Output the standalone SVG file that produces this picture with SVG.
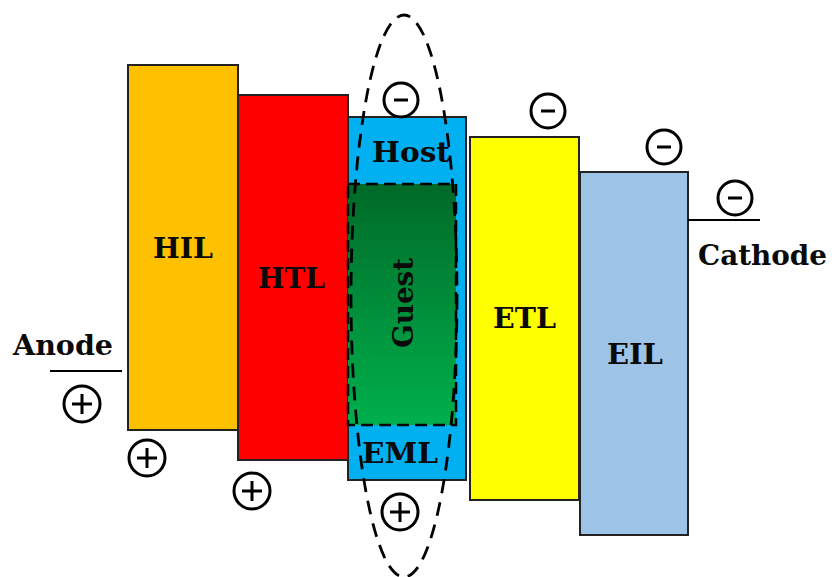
<svg xmlns="http://www.w3.org/2000/svg" width="832" height="577" viewBox="0 0 832 577">
<style>
.layer{stroke:#222;stroke-width:2}
.lbl{font-family:"DejaVu Serif","Liberation Serif",serif;font-weight:bold;fill:#0a0a0a;font-size:28px}
.chg{fill:none;stroke:#000;stroke-width:3}
.sign{stroke:#000;stroke-width:3;fill:none}
.dash{fill:none;stroke:#000;stroke-width:2.8;stroke-dasharray:14 9}
.dash2{fill:none;stroke:#000;stroke-width:2.5;stroke-dasharray:12 6}
</style>
<defs>
<linearGradient id="g" x1="0" y1="0" x2="0" y2="1">
<stop offset="0" stop-color="#006A28"/>
<stop offset="1" stop-color="#00B04C"/>
</linearGradient>
<g id="minus"><circle r="17" class="chg"/><line x1="-7" y1="0" x2="7" y2="0" class="sign" stroke-width="4.5"/></g>
<g id="plus"><circle r="18" class="chg"/><line x1="-10" y1="0" x2="10" y2="0" class="sign"/><line x1="0" y1="-10" x2="0" y2="10" class="sign"/></g>
</defs>
<rect width="832" height="577" fill="#fff"/>
<g id="HIL"><rect x="128" y="65" width="110" height="365" fill="#FFC000" class="layer"/><text x="153" y="258" class="lbl" textLength="60" lengthAdjust="spacingAndGlyphs">HIL</text></g>
<g id="HTL"><rect x="238" y="95" width="110" height="365" fill="#FF0000" class="layer"/><text x="258" y="288" class="lbl" textLength="67" lengthAdjust="spacingAndGlyphs">HTL</text></g>
<g id="EML"><rect x="348" y="117" width="118" height="363" fill="#00B0F0" class="layer"/><text x="372" y="162" class="lbl" textLength="78" lengthAdjust="spacingAndGlyphs">Host</text><text x="362" y="463" class="lbl" textLength="76" lengthAdjust="spacingAndGlyphs">EML</text></g>
<g id="Guest"><rect x="348" y="184" width="108" height="241" fill="url(#g)"/><rect x="348" y="184" width="108" height="241" class="dash2"/><text transform="translate(413,348) rotate(-90)" x="0" y="0" class="lbl" textLength="90" lengthAdjust="spacingAndGlyphs">Guest</text></g>
<g id="ETL"><rect x="470" y="137" width="109" height="363" fill="#FFFF00" class="layer"/><text x="493" y="328" class="lbl" textLength="63" lengthAdjust="spacingAndGlyphs">ETL</text></g>
<g id="EIL"><rect x="580" y="172" width="108" height="363" fill="#9DC3E6" class="layer"/><text x="607" y="364" class="lbl" textLength="56" lengthAdjust="spacingAndGlyphs">EIL</text></g>
<g id="Anode"><line x1="50" y1="371" x2="122" y2="371" stroke="#000" stroke-width="2"/><text x="13" y="355" class="lbl" textLength="100" lengthAdjust="spacingAndGlyphs">Anode</text></g>
<g id="Cathode"><line x1="688" y1="220" x2="760" y2="220" stroke="#000" stroke-width="2"/><text x="698" y="265" class="lbl" textLength="129" lengthAdjust="spacingAndGlyphs">Cathode</text></g>
<g id="emission"><ellipse cx="404" cy="296" rx="53" ry="281" class="dash"/></g>
<g id="charges">
<use href="#minus" x="401" y="100"/>
<use href="#minus" x="548" y="111"/>
<use href="#minus" x="664" y="147"/>
<use href="#minus" x="735" y="198"/>
<use href="#plus" x="82" y="404"/>
<use href="#plus" x="147" y="458"/>
<use href="#plus" x="252" y="491"/>
<use href="#plus" x="400" y="512"/>
</g>
</svg>
